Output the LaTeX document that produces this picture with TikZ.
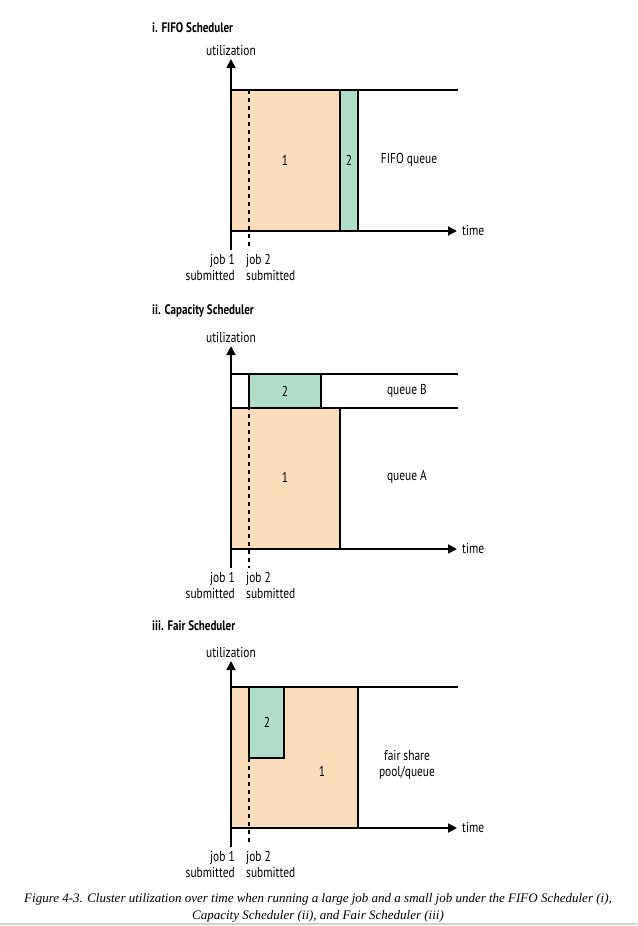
\documentclass[tikz,border=0pt]{standalone}
\usepackage{fontspec}
\setmainfont{Liberation Serif}
\newfontfamily\condfont[FakeStretch=0.8]{PT Sans}
\usetikzlibrary{arrows.meta,calc}

\definecolor{jobone}{RGB}{252,221,187}
\definecolor{jobtwo}{RGB}{176,222,200}
\definecolor{rulegray}{RGB}{208,208,208}

\tikzset{
  axis/.style={line width=1.8pt, -{Triangle[length=9pt,width=9pt]}},
  box/.style={line width=1.7pt},
  subline/.style={line width=1.8pt, dash pattern=on 4pt off 4pt},
  lbl/.style={font=\condfont\fontsize{14.3}{16.5}\selectfont, inner sep=0pt},
  ttl/.style={font=\condfont\bfseries\fontsize{13.8}{16.5}\selectfont, inner sep=0pt, anchor=base west},
  captext/.style={font=\itshape\fontsize{13}{17.5}\selectfont, inner sep=0pt, align=center},
}

\newcommand{\schedpanel}[5]{% axes and labels of one panel:
  % #1 prefix, #2 title, #3 title baseline, #4 arrow tip, #5 time axis
  \node[ttl] (#1-title) at (152,#3) {#2};
  \coordinate (#1-o) at (231,#5+19);
  \coordinate (#1-up) at (231,#4);
  \coordinate (#1-t0) at (231,#5);
  \coordinate (#1-t1) at (457,#5);
  \draw[axis] (#1-o) -- (#1-up);
  \draw[axis] (#1-t0) -- (#1-t1);
  \node[lbl, anchor=base] (#1-util) at ($(#1-up)+(0,-4)$) {utilization};
  \node[lbl, anchor=west] (#1-time) at ($(#1-t1)+(5,0)$) {time};
  \node[lbl, anchor=north east, align=right] (#1-job1) at (235,#5+23) {job 1\\submitted};
  \node[lbl, anchor=north west, align=left] (#1-job2) at (246,#5+23) {job 2\\submitted};
}

\begin{document}
\begin{tikzpicture}[x=1pt,y=-1pt]
  \useasboundingbox (0,0) rectangle (637,926);

  % i. FIFO
  \draw[box, fill=jobone] (231,90) rectangle (340,231);
  \draw[box, fill=jobtwo] (340,90) rectangle (358,231);
  \coordinate (fifo-top0) at (231,90);
  \coordinate (fifo-top1) at (458,90);
  \draw[box] (fifo-top0) -- (fifo-top1);
  \coordinate (fifo-d0) at (249,90);
  \coordinate (fifo-d1) at (249,250);
  \draw[subline] (fifo-d0) -- (fifo-d1);
  \node[lbl] (fifo-one) at (285,160) {1};
  \node[lbl] (fifo-two) at (349,160) {2};
  \node[lbl] (fifo-q) at (409,160) {FIFO queue};
  \schedpanel{fifo}{i. FIFO Scheduler}{32}{59}{231}

  % ii. Capacity
  \draw[box, fill=jobtwo] (249,374) rectangle (321,408);
  \draw[box, fill=jobone] (231,408) rectangle (340,549);
  \coordinate (cap-top0) at (231,374);
  \coordinate (cap-top1) at (458,374);
  \coordinate (cap-mid0) at (231,408);
  \coordinate (cap-mid1) at (458,408);
  \draw[box] (cap-top0) -- (cap-top1);
  \draw[box] (cap-mid0) -- (cap-mid1);
  \coordinate (cap-d0) at (249,374);
  \coordinate (cap-d1) at (249,568);
  \draw[subline] (cap-d0) -- (cap-d1);
  \node[lbl] (cap-two) at (285,391) {2};
  \node[lbl] (cap-qb) at (407,391) {queue B};
  \node[lbl] (cap-one) at (285,477) {1};
  \node[lbl] (cap-qa) at (407,477) {queue A};
  \schedpanel{cap}{ii. Capacity Scheduler}{314}{346}{549}

  % iii. Fair
  \draw[box, fill=jobone] (231,687) rectangle (358,828);
  \draw[box, fill=jobtwo] (249,687) rectangle (284,758);
  \coordinate (fair-top0) at (231,687);
  \coordinate (fair-top1) at (458,687);
  \draw[box] (fair-top0) -- (fair-top1);
  \coordinate (fair-d0) at (249,758);
  \coordinate (fair-d1) at (249,845);
  \draw[subline] (fair-d0) -- (fair-d1);
  \node[lbl] (fair-two) at (267,722) {2};
  \node[lbl] (fair-one) at (322,771) {1};
  \node[lbl, align=center] (fair-pool) at (407,765) {fair share\\pool/queue};
  \schedpanel{fair}{iii. Fair Scheduler}{630}{661}{828}

  % caption and rule
  \node[captext, anchor=north] (fig-cap) at (318,893) {Figure 4-3. Cluster utilization over time when running a large job and a small job under the FIFO Scheduler (i),\\Capacity Scheduler (ii), and Fair Scheduler (iii)};
  \coordinate (rule-l) at (0,924);
  \coordinate (rule-r) at (637,924);
  \draw[rulegray, line width=1.5pt] (rule-l) -- (rule-r);
\end{tikzpicture}
\end{document}
